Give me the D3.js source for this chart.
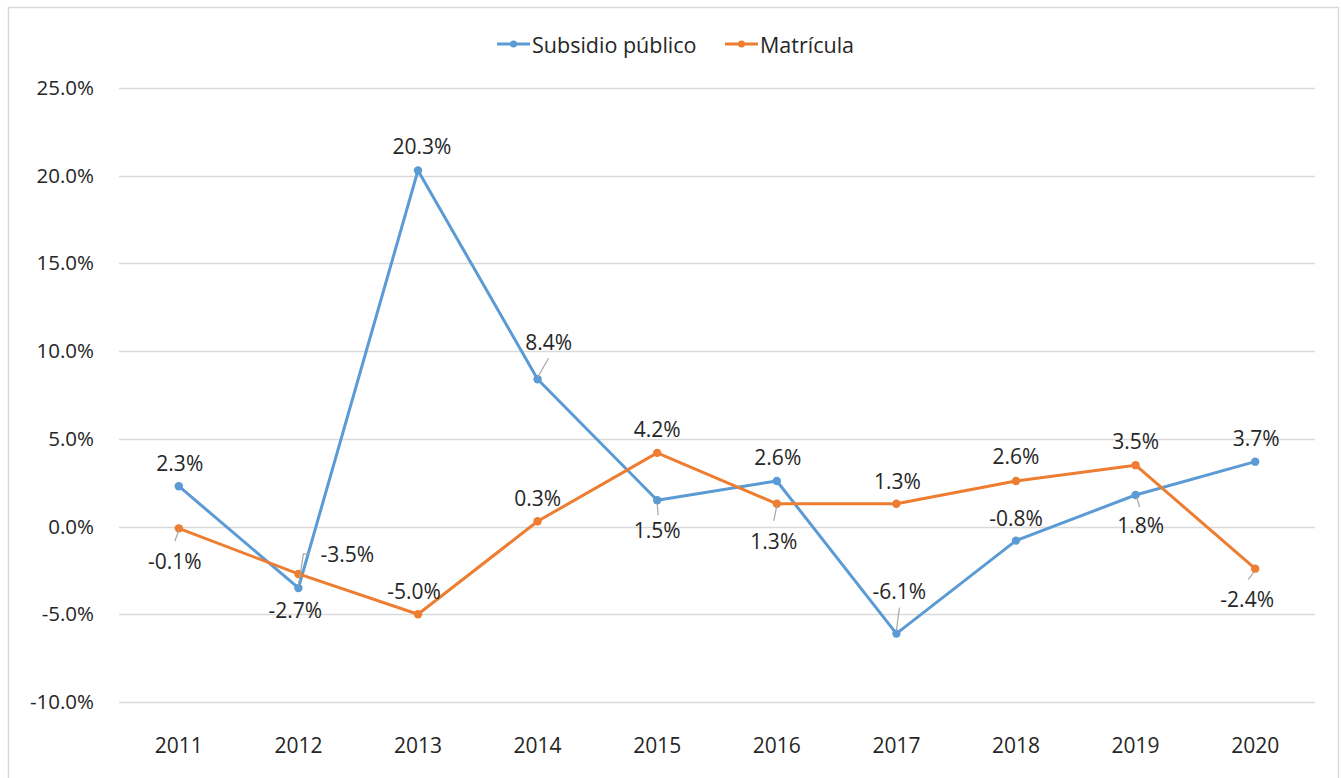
<!DOCTYPE html>
<html>
<head>
<meta charset="utf-8">
<script src="https://cdn.jsdelivr.net/npm/d3@7"></script>
<style>
  body { margin: 0; background: #fff; }
  svg text { font-family: "Open Sans", "Noto Sans", sans-serif; fill: #262626; }
</style>
</head>
<body>
<div id="chart"></div>
<script>
// data
const years = ["2011", "2012", "2013", "2014", "2015", "2016", "2017", "2018", "2019", "2020"];
const subsidio = [2.3, -3.5, 20.3, 8.4, 1.5, 2.6, -6.1, -0.8, 1.8, 3.7];
const matricula = [-0.1, -2.7, -5.0, 0.3, 4.2, 1.3, 1.3, 2.6, 3.5, -2.4];
const yTicks = [-10, -5, 0, 5, 10, 15, 20, 25];
const seriesNames = ["Subsidio público", "Matrícula"];

// label placement (dx, dy from the point, label centre) and leader lines
const subsidioLabelPos = [[1, -23], [49, -34], [4, -24], [11, -37], [0, 30], [1, -24], [3, -43], [0, -23], [5, 30], [1, -24]];
const matriculaLabelPos = [[-4, 33], [-3, 36], [-4, -23], [0, -23], [0, -24], [-3, 37], [1, -23], [0, -25], [0, -24], [-8, 30]];
const subsidioLeader = [null, [[0, -2], [5, -34], [11, -34]], null, [[0, -2], [11, -21]], [[0, 3], [1, 15]], null, [[0, -3], [3, -26]], null, [[1, 2], [4, 12]], null];
const matriculaLeader = [[[0, 2], [-4, 13]], null, null, null, null, [[0, 2], [-3, 17]], null, null, null, [[-1, 3], [-7, 11]]];

const width = 1341, height = 778;
const margin = { top: 88, right: 26, bottom: 76, left: 119 };
const colors = ["#5b9bd5", "#ed7d31"];

const svg = d3.select("#chart").append("svg")
  .attr("width", width)
  .attr("height", height);

// chart border
svg.append("rect")
  .attr("x", 8.5).attr("y", 7.5)
  .attr("width", 1330).attr("height", 800)
  .attr("fill", "none")
  .attr("stroke", "#d9d9d9")
  .attr("stroke-width", 1.5);

const xScale = d3.scaleBand()
  .domain(years)
  .range([margin.left, width - margin.right]);

const yScale = d3.scaleLinear()
  .domain([-10, 25])
  .range([702, 88]);

// gridlines
svg.append("g")
  .selectAll("line")
  .data(yTicks)
  .enter()
  .append("line")
  .attr("x1", margin.left)
  .attr("x2", width - margin.right)
  .attr("y1", (d) => Math.round(yScale(d)) + 0.5)
  .attr("y2", (d) => Math.round(yScale(d)) + 0.5)
  .attr("stroke", "#d9d9d9")
  .attr("stroke-width", 1.3);

// y axis
const yAxis = d3.axisLeft(yScale)
  .tickValues(yTicks)
  .tickSize(0)
  .tickPadding(25)
  .tickFormat((d) => d.toFixed(1) + "%");

svg.append("g")
  .attr("id", "y-axis")
  .attr("transform", `translate(${margin.left}, 0)`)
  .call(yAxis)
  .call((g) => g.select(".domain").remove())
  .selectAll("text")
  .style("font-size", "20.5px")
  .attr("fill", "#262626");

// x axis
const xAxis = d3.axisBottom(xScale).tickSize(0).tickPadding(36);

svg.append("g")
  .attr("id", "x-axis")
  .attr("transform", `translate(0, ${yScale(-10)})`)
  .call(xAxis)
  .call((g) => g.select(".domain").remove())
  .selectAll("text")
  .style("font-size", "21px")
  .attr("fill", "#262626");

const cx = (i) => xScale(years[i]) + xScale.bandwidth() / 2;

const line = d3.line()
  .x((d, i) => cx(i))
  .y((d) => yScale(d));

const allSeries = [subsidio, matricula];
const labelPos = [subsidioLabelPos, matriculaLabelPos];
const leaders = [subsidioLeader, matriculaLeader];

allSeries.forEach((values, s) => {
  svg.append("path")
    .datum(values)
    .attr("d", line)
    .attr("fill", "none")
    .attr("stroke", colors[s])
    .attr("stroke-width", 3)
    .attr("stroke-linejoin", "round");

  svg.append("g")
    .selectAll("circle")
    .data(values)
    .enter()
    .append("circle")
    .attr("cx", (d, i) => cx(i))
    .attr("cy", (d) => yScale(d))
    .attr("r", 4.2)
    .attr("fill", colors[s]);
});

// leader lines
allSeries.forEach((values, s) => {
  values.forEach((v, i) => {
    const pts = leaders[s][i];
    if (!pts) return;
    svg.append("polyline")
      .attr("points", pts.map((p) => [cx(i) + p[0], yScale(v) + p[1]].join(",")).join(" "))
      .attr("fill", "none")
      .attr("stroke", "#a6a6a6")
      .attr("stroke-width", 1.2);
  });
});

// data labels
allSeries.forEach((values, s) => {
  svg.append("g")
    .selectAll("text")
    .data(values)
    .enter()
    .append("text")
    .attr("x", (d, i) => cx(i) + labelPos[s][i][0])
    .attr("y", (d, i) => yScale(d) + labelPos[s][i][1])
    .attr("text-anchor", "middle")
    .attr("dominant-baseline", "central")
    .style("font-size", "21px")
    .text((d) => d.toFixed(1) + "%");
});

// legend
const legendItems = [
  { name: seriesNames[0], color: colors[0], x: 497 },
  { name: seriesNames[1], color: colors[1], x: 725 },
];

const legend = svg.append("g").attr("transform", "translate(0, 44)");
legendItems.forEach((item) => {
  const g = legend.append("g").attr("transform", `translate(${item.x}, 0)`);
  g.append("line")
    .attr("x1", 0).attr("x2", 33)
    .attr("y1", 0).attr("y2", 0)
    .attr("stroke", item.color)
    .attr("stroke-width", 3);
  g.append("circle")
    .attr("cx", 16.5).attr("cy", 0).attr("r", 3.5)
    .attr("fill", item.color);
  g.append("text")
    .attr("x", 35)
    .attr("y", 0)
    .attr("dominant-baseline", "central")
    .style("font-size", "21.5px")
    .text(item.name);
});
</script>
</body>
</html>
